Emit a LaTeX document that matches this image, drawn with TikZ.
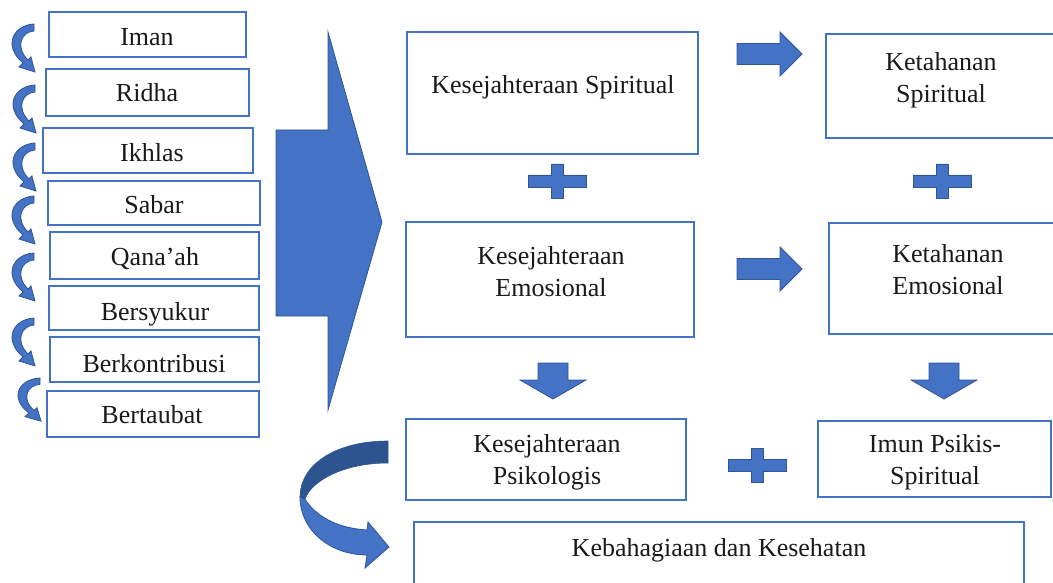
\documentclass[tikz,border=0pt]{standalone}
\usepackage{fontspec}
\setmainfont{Liberation Serif}
\definecolor{blu}{HTML}{4472C4}
\definecolor{bluedge}{HTML}{2F5597}
\definecolor{bludark}{HTML}{2E5490}
\begin{document}
\begin{tikzpicture}[x=1pt,y=-1pt,
  box/.style={draw=blu, line width=1.6pt, inner sep=0pt, fill=none},
  txt/.style={font=\fontsize{26}{32}\selectfont, text=black!90, align=center, inner sep=0pt},
  shp/.style={fill=blu, draw=bluedge, line width=0.8pt, line join=miter},
  pics/carrow/.style={code={
    \path[shp] (0,0) .. controls (-20,1) and (-32,21) .. (-11,39) -- (-15,43) -- (1,48) -- (-3,33) -- (-6,36)
      .. controls (-19,23) and (-13,8) .. (0,7) -- cycle;}},
  pics/rarrow/.style={code={
    \path[shp] (0,-10.5) -- (43,-10.5) -- (43,-22) -- (65,0) -- (43,22) -- (43,10.5) -- (0,10.5) -- cycle;}},
  pics/darrow/.style={code={
    \path[shp] (-15,0) -- (15,0) -- (15,17) -- (33,17) -- (0,36) -- (-33,17) -- (-15,17) -- cycle;}},
  pics/plussign/.style={code={
    \path[shp] (-29,-6) -- (-6,-6) -- (-6,-17) -- (6,-17) -- (6,-6) -- (29,-6) -- (29,6) -- (6,6) -- (6,17)
      -- (-6,17) -- (-6,6) -- (-29,6) -- cycle;}}
]
\useasboundingbox (0,0) rectangle (1053,583);

% left boxes
\node[box, minimum width=197pt, minimum height=45pt] (iman) at (147.5,34.5) {};
\node[box, minimum width=203pt, minimum height=47pt] (ridha) at (147.5,92.5) {};
\node[box, minimum width=210pt, minimum height=45pt] (ikhlas) at (148,150.5) {};
\node[box, minimum width=212pt, minimum height=44pt] (sabar) at (154,203) {};
\node[box, minimum width=209pt, minimum height=47pt] (qanaah) at (154.5,255.5) {};
\node[box, minimum width=210pt, minimum height=44pt] (syukur) at (154,308) {};
\node[box, minimum width=209pt, minimum height=45pt] (kontri) at (154.5,359.5) {};
\node[box, minimum width=212pt, minimum height=46pt] (taubat) at (153,414) {};

\node[txt, anchor=base] (imanT) at (147,46) {Iman};
\node[txt, anchor=base] (ridhaT) at (147,102) {Ridha};
\node[txt, anchor=base] (ikhlasT) at (152,162) {Ikhlas};
\node[txt, anchor=base] (sabarT) at (154,214) {Sabar};
\node[txt, anchor=base] (qanaahT) at (155,265) {Qana’ah};
\node[txt, anchor=base] (syukurT) at (155,320) {Bersyukur};
\node[txt, anchor=base] (kontriT) at (154,372) {Berkontribusi};
\node[txt, anchor=base] (taubatT) at (152,423) {Bertaubat};

% curved arrows on the left
\pic at (34,24) {carrow};
\pic at (35,85) {carrow};
\pic at (35,143) {carrow};
\pic at (34,196) {carrow};
\pic at (34,253) {carrow};
\pic at (34,318) {carrow};
\pic[yscale=0.9] at (40,378) {carrow};

% big arrow
\path[shp] (276,130) -- (328,130) -- (328,32) -- (382,222) -- (328,410) -- (328,316) -- (276,316) -- cycle;

% right boxes
\node[box, minimum width=291pt, minimum height=122pt] (ksp) at (552.5,93) {};
\node[box, minimum width=244pt, minimum height=104pt] (ktsp) at (948,86) {};
\node[box, minimum width=288pt, minimum height=115pt] (kem) at (550,279.5) {};
\node[box, minimum width=241pt, minimum height=111pt] (ktem) at (949.5,278.5) {};
\node[box, minimum width=280pt, minimum height=81pt] (kps) at (546,459.5) {};
\node[box, minimum width=233pt, minimum height=76pt] (imun) at (934.5,459) {};
\node[box, minimum width=610pt, minimum height=88pt] (keb) at (719,566) {};

\node[txt, anchor=base] (kspT) at (553,94) {Kesejahteraan Spiritual};
\node[txt, anchor=north] (ktspT) at (941,52) {Ketahanan\\Spiritual};
\node[txt, anchor=north] (kemT) at (551,246) {Kesejahteraan\\Emosional};
\node[txt, anchor=north] (ktemT) at (948,244) {Ketahanan\\Emosional};
\node[txt, anchor=north] (kpsT) at (547,434) {Kesejahteraan\\Psikologis};
\node[txt, anchor=north] (imunT) at (935,434) {Imun Psikis-\\Spiritual};
\node[txt, anchor=base] (kebT) at (719,556) {Kebahagiaan dan Kesehatan};

% block arrows and plus signs
\pic at (737,54) {rarrow};
\pic at (737,269) {rarrow};
\pic at (553,363) {darrow};
\pic at (944,363) {darrow};
\pic at (557,181) {plussign};
\pic at (942,181) {plussign};
\pic at (757,465) {plussign};

% bottom curved arrow
\path[fill=bludark, draw=bluedge, line width=0.6pt] (388,441) .. controls (335,441) and (300,465) .. (300,497)
  -- (305,499) .. controls (312,480) and (345,463) .. (388,463) -- cycle;
\path[shp] (300,497) .. controls (300,530) and (330,555) .. (367,555) -- (365,568) -- (389,547) -- (368,522)
  -- (367,530) .. controls (335,528) and (315,515) .. (305,499) -- cycle;
\end{tikzpicture}
\end{document}
